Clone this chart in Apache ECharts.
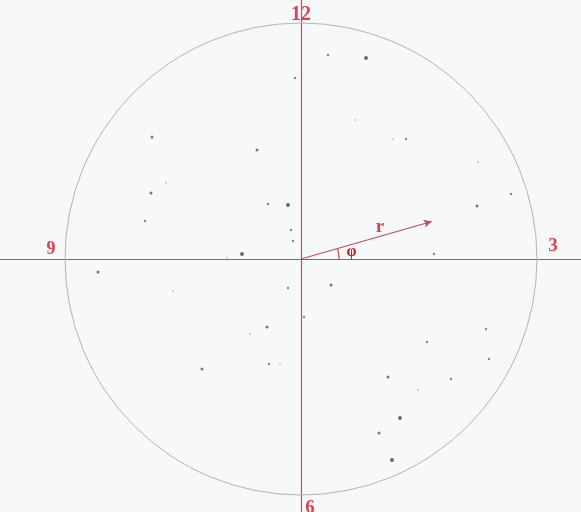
<!DOCTYPE html>
<html><head><meta charset="utf-8">
<script src="https://cdn.jsdelivr.net/npm/echarts@6/dist/echarts.min.js"></script>
<style>html,body{margin:0;padding:0;background:#f7f8fa}#c{width:581px;height:512px}</style>
</head><body><div id="c"></div>
<script>
// Units: offsets from the centre of the clock face, y upward
const xRange = [-301, 280];
const yRange = [-253, 259];
const circleRadius = 236;

const clockLabels = ['12', '3', '6', '9', 'r'];
const clockLabelPos = [[0, 244], [252, 13], [9, -249], [-250, 10], [79, 32]];

const vectorLength = 136;   // r
const vectorAngle = 16;     // φ in degrees
const arcRadius = 38;

const largeDots = [[65, 201], [-13, 54], [-59, 5], [99, -159], [91, -201]];
const mediumDots = [[-149, 122], [-44, 109], [-150, 66], [176, 53], [-203, -13], [30, -26],
  [-34, -68], [-99, -110], [87, -118], [78, -174]];
const smallDots = [[27, 204], [-6, 181], [105, 120], [-33, 55], [-156, 38], [-10, 29], [-8, 18],
  [210, 65], [133, 5], [-13, -29], [3, -58], [185, -70], [126, -83], [188, -100], [-32, -105],
  [150, -120]];
const faintDots = [[-74, 1], [177, 97], [54, 139], [92, 120], [-135, 76], [-128, -32],
  [-51, -75], [-21, -105], [117, -131]];

const RED_LINE = '#c44c55';
const RED_TEXT = '#d6141e';
const SERIF = 'Liberation Serif';

const rad = vectorAngle * Math.PI / 180;
const tip = [vectorLength * Math.cos(rad), vectorLength * Math.sin(rad)];
const labelSizes = {'12': 20, '3': 19, '6': 19, '9': 18, 'r': 19};

const chart = echarts.init(document.getElementById('c'));
chart.setOption({
  backgroundColor: '#f7f8fa',
  animation: false,
  grid: {left: 0, right: 0, top: 0, bottom: 0},
  xAxis: {type: 'value', min: xRange[0], max: xRange[1],
    axisLine: {show: true, onZero: true, lineStyle: {color: RED_LINE, width: 1.2}},
    axisTick: {show: false}, axisLabel: {show: false}, splitLine: {show: false}},
  yAxis: {type: 'value', min: yRange[0], max: yRange[1],
    axisLine: {show: true, onZero: true, lineStyle: {color: RED_LINE, width: 1.2}},
    axisTick: {show: false}, axisLabel: {show: false}, splitLine: {show: false}},
  series: [
    {
      type: 'custom', silent: true, z: 1, data: [[0, 0]],
      renderItem(params, api) {
        const c = api.coord([0, 0]);
        const R = api.size([circleRadius, 0])[0];
        const ar = api.size([arcRadius, 0])[0];
        const lp = api.coord([48 * Math.cos(rad / 2) + 3, 48 * Math.sin(rad / 2)]);
        return {type: 'group', children: [
          {type: 'circle', shape: {cx: c[0], cy: c[1], r: R},
            style: {fill: 'none', stroke: '#b3b4b8', lineWidth: 1}},
          {type: 'arc', shape: {cx: c[0], cy: c[1], r: ar, startAngle: -rad, endAngle: 0},
            style: {fill: 'none', stroke: RED_LINE, lineWidth: 1.2}},
          {type: 'text', x: lp[0], y: lp[1],
            style: {text: 'φ', fill: RED_TEXT, font: 'bold 16px "' + SERIF + '"',
              align: 'center', verticalAlign: 'middle'}}
        ]};
      }
    },
    {
      type: 'scatter', name: 'faint', data: faintDots, symbolSize: 2, silent: true,
      itemStyle: {color: '#b9babd'}
    },
    {
      type: 'scatter', name: 'small', data: smallDots, symbolSize: 2.4, silent: true,
      itemStyle: {color: '#6a6b6e'}
    },
    {
      type: 'scatter', name: 'medium', data: mediumDots, symbolSize: 3, silent: true,
      itemStyle: {color: '#55565a'}
    },
    {
      type: 'scatter', name: 'large', data: largeDots, symbolSize: 3.8, silent: true,
      itemStyle: {color: '#3f4044'}
    },
    {
      type: 'scatter', name: 'labels', silent: true, symbolSize: 0, z: 5,
      data: clockLabels.map((t, i) => ({name: t, value: clockLabelPos[i],
        label: {fontSize: labelSizes[t]}})),
      label: {show: true, position: 'inside', formatter: p => p.name, color: RED_TEXT,
        fontFamily: SERIF, fontWeight: 'bold'},
      markLine: {
        silent: true, symbol: ['none', 'arrow'], symbolSize: [6, 8], precision: 4,
        lineStyle: {color: RED_LINE, width: 1.2, type: 'solid'},
        label: {show: false},
        data: [[{coord: [0, 0]}, {coord: tip}]]
      }
    }
  ]
});
</script></body></html>
